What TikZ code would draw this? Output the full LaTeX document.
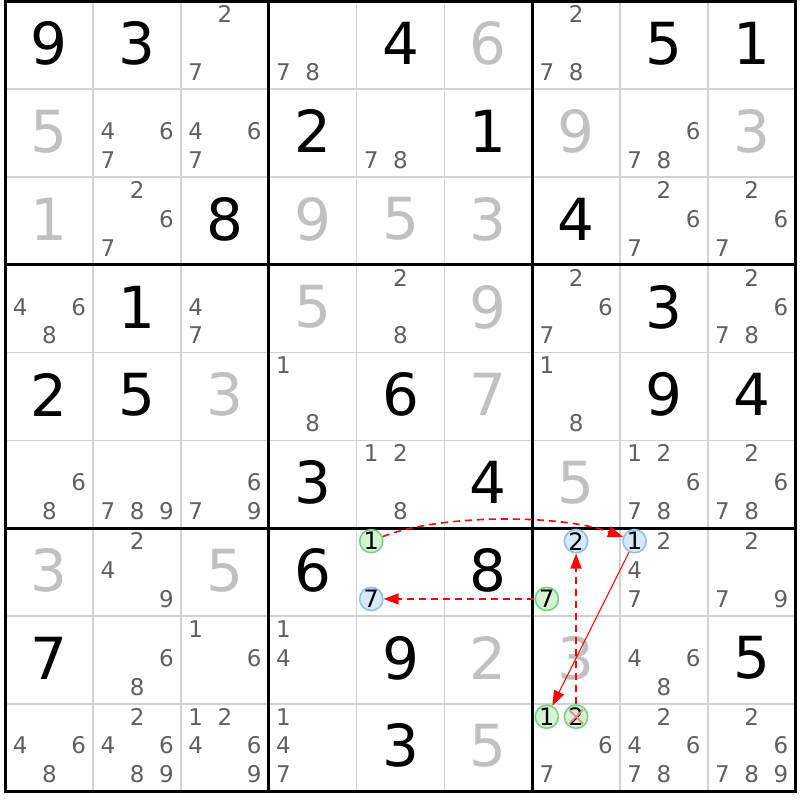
\documentclass[tikz,border=0pt]{standalone}
\usepackage{fontspec}
\setmainfont{DejaVu Sans}
\usetikzlibrary{arrows.meta}
\definecolor{thinc}{RGB}{210,210,210}
\definecolor{solgray}{RGB}{192,192,192}
\definecolor{candgray}{RGB}{96,96,96}
\definecolor{gfill}{RGB}{212,242,212}
\definecolor{gdraw}{RGB}{120,210,130}
\definecolor{bfill}{RGB}{214,232,250}
\definecolor{bdraw}{RGB}{145,192,240}
\definecolor{xred}{RGB}{240,130,140}
\newcommand\giv[3]{\node[given] (v#1#2) at ({5.5+(#2-0.5)*87.78},{1.5+(#1-0.5)*87.78-1.8}) {#3};}
\newcommand\sol[3]{\node[solved] (v#1#2) at ({5.5+(#2-0.5)*87.78},{1.5+(#1-0.5)*87.78-1.8}) {#3};}
\newcommand\cand[3]{\foreach \k in {#3}{%
  \pgfmathtruncatemacro\cj{mod(\k-1,3)}%
  \pgfmathtruncatemacro\ci{floor((\k-1)/3)}%
  \node[cand] (c#1#2\k) at ({5.5+(#2-1)*87.78+(2*\cj+1)*14.63},{1.5+(#1-1)*87.78+41.85+(\ci-1)*28.9}) {\k};}}
\newcommand\ccand[4]{%
  \pgfmathtruncatemacro\cj{mod(#3-1,3)}%
  \pgfmathtruncatemacro\ci{floor((#3-1)/3)}%
  \node[#4] (c#1#2#3) at ({5.5+(#2-1)*87.78+(2*\cj+1)*14.63},{1.5+(#1-1)*87.78+41.85+(\ci-1)*28.9}) {#3};}
\begin{document}
\begin{tikzpicture}[x=1pt,y=-1pt,
  given/.style={font=\fontsize{58}{58}\selectfont, inner sep=0pt, text=black},
  solved/.style={given, text=solgray},
  cand/.style={font=\fontsize{23}{23}\selectfont, inner sep=0pt, text=candgray},
  ring/.style={circle, minimum size=23pt, inner sep=0pt, line width=1.6pt,
    font=\fontsize{24}{24}\selectfont, text=black},
  gring/.style={ring, draw=gdraw, fill=gfill},
  bring/.style={ring, draw=bdraw, fill=bfill},
  thinline/.style={thinc, line width=1.6pt},
  thickline/.style={black, line width=3pt},
  link/.style={red, line width=1.6pt, dash pattern=on 7pt off 5pt, -{Triangle[length=15pt,width=11pt]}},
  solidlink/.style={red, line width=1pt, -{Triangle[length=15pt,width=11pt]}}
]
\useasboundingbox (0,0) rectangle (800,800);
\fill[white] (0,0) rectangle (800,800);
% grid
\foreach \i in {1,2,4,5,7,8}{
  \draw[thinline] ({5.5+\i*87.78},1.5) -- ({5.5+\i*87.78},791.5);
  \draw[thinline] (5.5,{1.5+\i*87.78}) -- (795.5,{1.5+\i*87.78});
}
\foreach \i in {0,3,6,9}{
  \draw[thickline] ({5.5+\i*87.78},0) -- ({5.5+\i*87.78},793);
  \draw[thickline] (4,{1.5+\i*87.78}) -- (797,{1.5+\i*87.78});
}
% row 1
\giv{1}{1}{9}\giv{1}{2}{3}\cand{1}{3}{2,7}\cand{1}{4}{7,8}\giv{1}{5}{4}\sol{1}{6}{6}\cand{1}{7}{2,7,8}\giv{1}{8}{5}\giv{1}{9}{1}
% row 2
\sol{2}{1}{5}\cand{2}{2}{4,6,7}\cand{2}{3}{4,6,7}\giv{2}{4}{2}\cand{2}{5}{7,8}\giv{2}{6}{1}\sol{2}{7}{9}\cand{2}{8}{6,7,8}\sol{2}{9}{3}
% row 3
\sol{3}{1}{1}\cand{3}{2}{2,6,7}\giv{3}{3}{8}\sol{3}{4}{9}\sol{3}{5}{5}\sol{3}{6}{3}\giv{3}{7}{4}\cand{3}{8}{2,6,7}\cand{3}{9}{2,6,7}
% row 4
\cand{4}{1}{4,6,8}\giv{4}{2}{1}\cand{4}{3}{4,7}\sol{4}{4}{5}\cand{4}{5}{2,8}\sol{4}{6}{9}\cand{4}{7}{2,6,7}\giv{4}{8}{3}\cand{4}{9}{2,6,7,8}
% row 5
\giv{5}{1}{2}\giv{5}{2}{5}\sol{5}{3}{3}\cand{5}{4}{1,8}\giv{5}{5}{6}\sol{5}{6}{7}\cand{5}{7}{1,8}\giv{5}{8}{9}\giv{5}{9}{4}
% row 6
\cand{6}{1}{6,8}\cand{6}{2}{7,8,9}\cand{6}{3}{6,7,9}\giv{6}{4}{3}\cand{6}{5}{1,2,8}\giv{6}{6}{4}\sol{6}{7}{5}\cand{6}{8}{1,2,6,7,8}\cand{6}{9}{2,6,7,8}
% row 7
\sol{7}{1}{3}\cand{7}{2}{2,4,9}\sol{7}{3}{5}\giv{7}{4}{6}
\ccand{7}{5}{1}{gring}\ccand{7}{5}{7}{bring}
\giv{7}{6}{8}
\ccand{7}{7}{2}{bring}\ccand{7}{7}{7}{gring}
\ccand{7}{8}{1}{bring}\cand{7}{8}{2,4,7}
\cand{7}{9}{2,7,9}
% row 8
\giv{8}{1}{7}\cand{8}{2}{6,8}\cand{8}{3}{1,6}\cand{8}{4}{1,4}\giv{8}{5}{9}\sol{8}{6}{2}\sol{8}{7}{3}\cand{8}{8}{4,6,8}\giv{8}{9}{5}
% row 9
\cand{9}{1}{4,6,8}\cand{9}{2}{2,4,6,8,9}\cand{9}{3}{1,2,4,6,9}\cand{9}{4}{1,4,7}\giv{9}{5}{3}\sol{9}{6}{5}
\ccand{9}{7}{1}{gring}\ccand{9}{7}{2}{gring}\cand{9}{7}{6,7}
\cand{9}{8}{2,4,6,7,8}\cand{9}{9}{2,6,7,8,9}
% cross on eliminated candidate
\draw[xred, line width=1.8pt] ([shift={(-7,-7)}]c972.center) -- ([shift={(7,7)}]c972.center)
  ([shift={(-7,7)}]c972.center) -- ([shift={(7,-7)}]c972.center);
% links
\draw[link] (c751) .. controls (440,514) and (560,514) .. (c781);
\draw[link] (c777) -- (c757);
\draw[link] (c972) -- (c772);
\draw[solidlink] (c781) -- (c971);
\end{tikzpicture}
\end{document}
